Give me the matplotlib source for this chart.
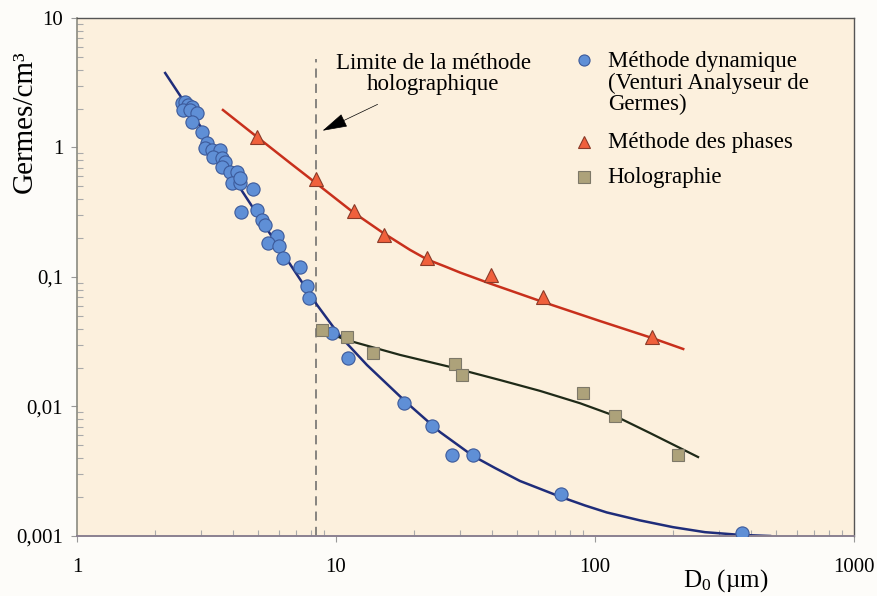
import numpy as np
import matplotlib
matplotlib.use("Agg")
import matplotlib.pyplot as plt
from matplotlib.ticker import FixedLocator, LogLocator, NullFormatter

plt.rcParams['font.family'] = ['Liberation Serif', 'DejaVu Serif']
plt.rcParams['mathtext.fontset'] = 'custom'
plt.rcParams['mathtext.rm'] = 'Liberation Serif'
plt.rcParams['mathtext.it'] = 'Liberation Serif:italic'

# Méthode dynamique (Venturi Analyseur de Germes) - measured points
dyn_d = [2.54, 2.61, 2.68, 2.78, 2.57, 2.73, 2.91, 2.78, 3.04, 3.18, 3.12, 3.32,
         3.57, 3.35, 3.63, 3.73, 3.63, 3.90, 4.15, 3.97, 4.26, 4.26, 4.78, 4.30,
         4.96, 5.18, 5.32, 5.92, 5.46, 6.03, 6.24, 7.26, 7.73, 7.87, 9.65, 11.1,
         18.3, 23.5, 28.1, 33.8, 73.9, 370]
dyn_n = [2.21, 2.25, 2.13, 2.06, 1.95, 1.95, 1.85, 1.57, 1.32, 1.08, 0.99, 0.956,
         0.956, 0.845, 0.83, 0.773, 0.707, 0.647, 0.647, 0.532, 0.532, 0.581, 0.478, 0.318,
         0.329, 0.275, 0.252, 0.207, 0.183, 0.174, 0.140, 0.120, 0.085, 0.069, 0.037, 0.0237,
         0.0106, 0.0071, 0.0042, 0.0042, 0.0021, 0.00106]
# fitted curve
dyn_fit_d = [2.19, 2.99, 4.26, 6.08, 8.45, 10.36, 13.17, 18.8, 25.2, 33.8, 41.1, 51.3,
             73.9, 91.5, 111, 149, 200, 266, 363, 474]
dyn_fit_n = [3.76, 1.466, 0.487, 0.1645, 0.0608, 0.035, 0.0209, 0.01064, 0.00635, 0.00415,
             0.00335, 0.00266, 0.0020, 0.00172, 0.00152, 0.00132, 0.00117, 0.00107,
             0.00102, 0.0010]

# Méthode des phases
ph_d = [4.96, 8.37, 11.7, 15.3, 22.5, 39.7, 63.0, 166]
ph_n = [1.205, 0.571, 0.323, 0.211, 0.140, 0.104, 0.070, 0.0344]
ph_fit_d = [3.66, 4.96, 6.65, 8.45, 11.6, 15.2, 19.3, 22.5, 26.4, 30.1, 39.3, 63.0,
            104.5, 166, 219]
ph_fit_n = [1.948, 1.205, 0.759, 0.523, 0.318, 0.219, 0.162, 0.1365, 0.1205, 0.1083,
            0.0891, 0.0641, 0.0457, 0.0338, 0.0278]

# Holographie
holo_d = [8.83, 11.0, 13.9, 28.8, 30.7, 89.9, 119.5, 209]
holo_n = [0.039, 0.0344, 0.0259, 0.0213, 0.0175, 0.0127, 0.00845, 0.00422]
holo_fit_d = [8.83, 11.0, 17.7, 27.6, 43.0, 61.3, 87.5, 119.5, 163, 250]
holo_fit_n = [0.0383, 0.0326, 0.025, 0.0202, 0.016, 0.0132, 0.0106, 0.00845, 0.00624, 0.00407]

holo_limit = 8.4

x_ticks = [1, 10, 100, 1000]
x_labels = ['1', '10', '100', '1000']
y_ticks = [0.001, 0.01, 0.1, 1, 10]
y_labels = ['0,001', '0,01', '0,1', '1', '10']

blue_face = '#5f8fd6'
blue_edge = '#3c5a9a'
red_face = '#f0603c'
red_edge = '#8a3a28'
sq_face = '#ada27a'
sq_edge = '#7d7868'

fig = plt.figure(figsize=(8.77, 5.96), dpi=100, facecolor='#fdfcf9')
ax = fig.add_axes([0.0878, 0.1007, 0.886, 0.8691])
ax.set_facecolor('#fcf0dd')
ax.set_xscale('log')
ax.set_yscale('log')
ax.set_xlim(1, 1000)
ax.set_ylim(0.001, 10)

# fitted curves
ax.plot(dyn_fit_d, dyn_fit_n, color='#1f2d7a', lw=1.8, zorder=2)
ax.plot(ph_fit_d, ph_fit_n, color='#c8301c', lw=1.8, zorder=2)
ax.plot(holo_fit_d, holo_fit_n, color='#1f2a18', lw=1.6, zorder=2)

# measurements
ax.plot(dyn_d, dyn_n, 'o', ms=9.5, mfc=blue_face, mec=blue_edge, mew=0.8, zorder=3)
ax.plot(ph_d, ph_n, '^', ms=10, mfc=red_face, mec=red_edge, mew=0.8, zorder=3)
ax.plot(holo_d, holo_n, 's', ms=9, mfc=sq_face, mec=sq_edge, mew=0.8, zorder=3)

# limit of the holographic method
ax.plot([holo_limit, holo_limit], [0.001, 4.8], color='#666666', lw=1.1,
        dashes=(6, 4), zorder=1)
ax.annotate('', xy=(8.68, 1.32), xytext=(14.8, 2.2),
            arrowprops=dict(arrowstyle='-|>,head_length=1.6,head_width=0.45',
                            color='black', lw=0.5))
ax.text(23.7, 3.7, 'Limite de la méthode\nholographique', ha='center', va='center',
        fontsize=16.5, linespacing=1.05)

# legend drawn by hand to keep the marker on the first line
leg_x = 0.652
tx = 0.683
ax.plot([leg_x], [0.919], 'o', ms=8, mfc=blue_face, mec=blue_edge, mew=0.8,
        transform=ax.transAxes, clip_on=False)
ax.text(tx, 0.874, 'Méthode dynamique\n(Venturi Analyseur de\nGermes)', fontsize=16.5,
        va='center', ha='left', linespacing=1.03, transform=ax.transAxes)
ax.plot([leg_x], [0.7606], '^', ms=8.5, mfc=red_face, mec=red_edge, mew=0.8,
        transform=ax.transAxes, clip_on=False)
ax.text(tx, 0.7606, 'Méthode des phases', fontsize=16.5, va='center', ha='left',
        transform=ax.transAxes)
ax.plot([leg_x], [0.693], 's', ms=8, mfc=sq_face, mec=sq_edge, mew=0.8,
        transform=ax.transAxes, clip_on=False)
ax.text(tx, 0.693, 'Holographie', fontsize=16.5, va='center', ha='left',
        transform=ax.transAxes)

# ticks
ax.xaxis.set_major_locator(FixedLocator(x_ticks))
ax.set_xticklabels(x_labels)
ax.yaxis.set_major_locator(FixedLocator(y_ticks))
ax.set_yticklabels(y_labels)
ax.xaxis.set_minor_locator(LogLocator(base=10, subs=np.arange(2, 10)))
ax.yaxis.set_minor_locator(LogLocator(base=10, subs=np.arange(2, 10)))
ax.xaxis.set_minor_formatter(NullFormatter())
ax.yaxis.set_minor_formatter(NullFormatter())
ax.tick_params(which='major', direction='out', length=4, width=0.8, color='#999999',
               labelsize=15, pad=6)
ax.tick_params(which='minor', direction='in', length=4, width=0.8, color='#aaaaaa')
ax.tick_params(axis='x', which='major', pad=12)

for side in ['top', 'right']:
    ax.spines[side].set_color('#555555')
    ax.spines[side].set_linewidth(1.0)
ax.spines['left'].set_color('#8a8a80')
ax.spines['bottom'].set_color('#8a8090')
ax.spines['left'].set_linewidth(1.2)
ax.spines['bottom'].set_linewidth(1.4)

ax.set_ylabel('Germes/cm³', fontsize=21)
ax.yaxis.set_label_coords(-0.05, 0.80)
ax.set_xlabel('D$_\\mathrm{0}$ (µm)', fontsize=18)
ax.xaxis.set_label_coords(0.835, -0.06)

fig.savefig('out.png', dpi=100, facecolor=fig.get_facecolor())
